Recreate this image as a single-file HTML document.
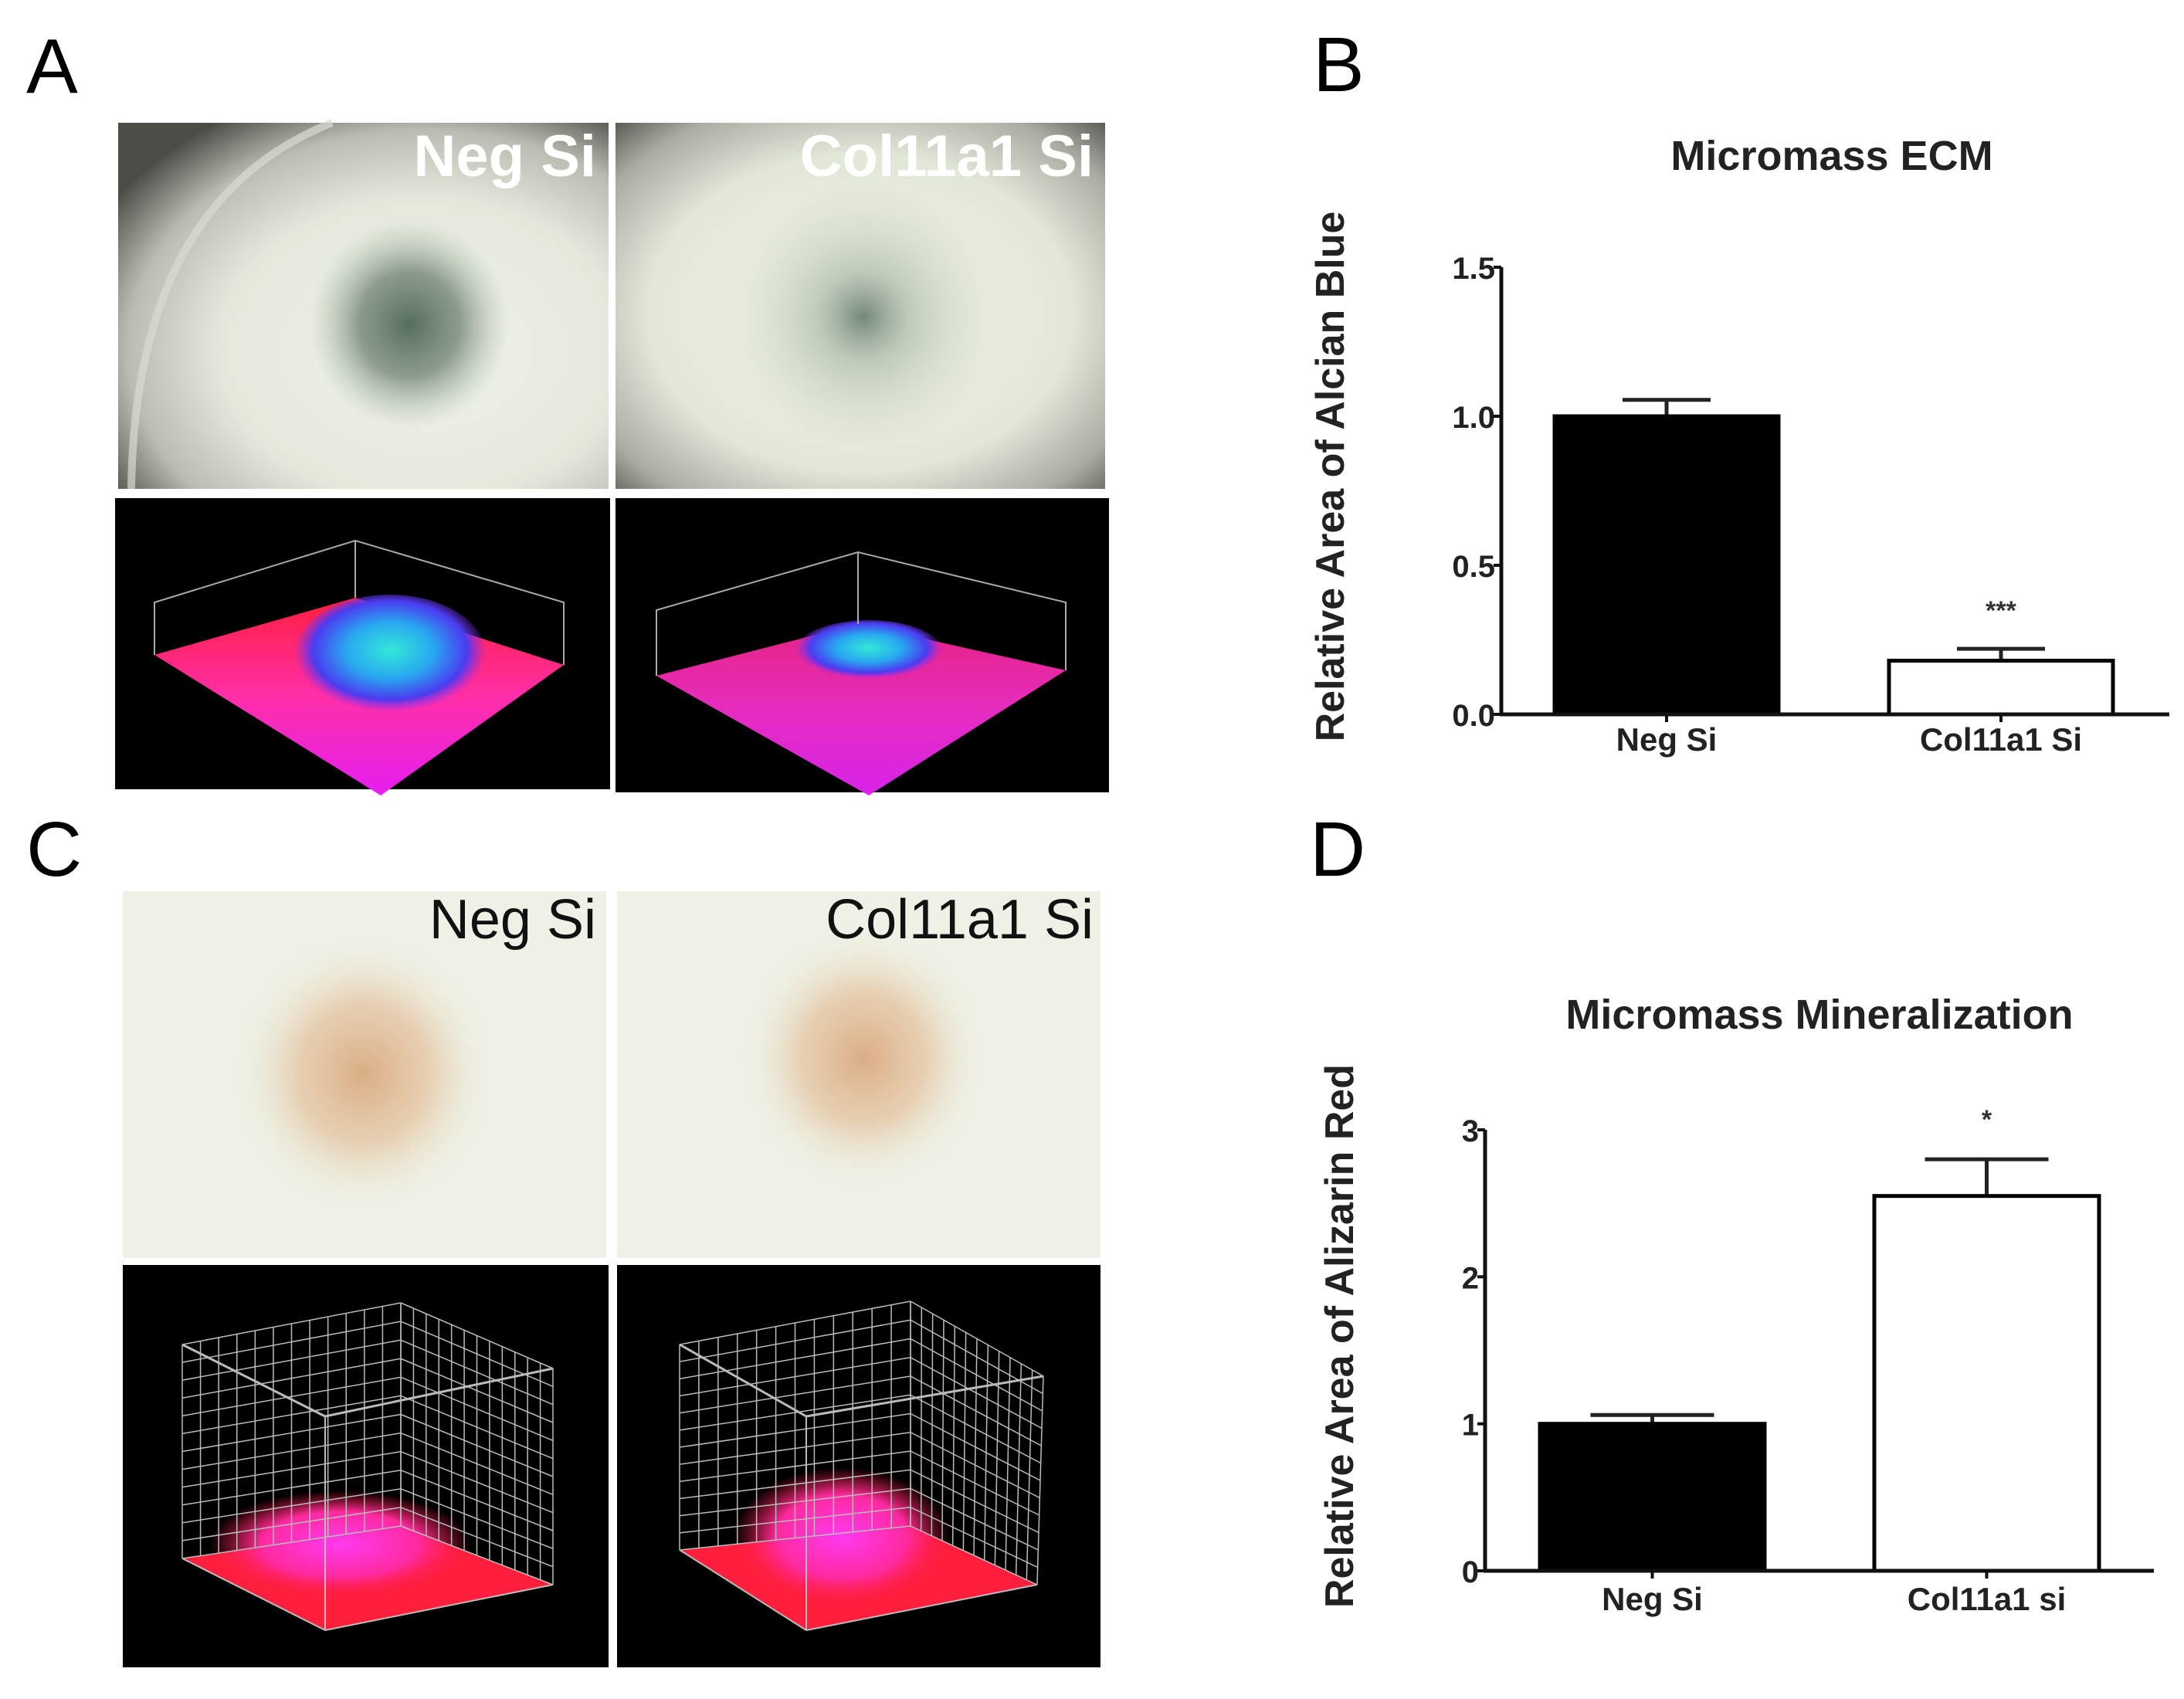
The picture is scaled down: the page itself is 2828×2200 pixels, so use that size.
<!DOCTYPE html>
<html><head><meta charset="utf-8">
<style>
html,body{margin:0;padding:0;background:#fff;}
body{width:2828px;height:2200px;position:relative;overflow:hidden;font-family:"Liberation Sans",Arial,sans-serif;}
svg{position:absolute;left:0;top:0;}
</style></head>
<body>
<svg id="fig" width="2828" height="2200" viewBox="0 0 2828 2200">
<defs>
<radialGradient id="dishA1" cx="0.62" cy="0.62" r="0.75">
<stop offset="0" stop-color="#eef3e6"/><stop offset="0.55" stop-color="#e3e9da"/><stop offset="0.8" stop-color="#b9bcb2"/><stop offset="1" stop-color="#4a4c46"/></radialGradient>
<radialGradient id="dishA2" cx="0.5" cy="0.52" r="0.72">
<stop offset="0" stop-color="#edf2e4"/><stop offset="0.6" stop-color="#e2e8d8"/><stop offset="0.85" stop-color="#a9aca2"/><stop offset="1" stop-color="#5b5d57"/></radialGradient>
<radialGradient id="spotA1" cx="0.5" cy="0.5" r="0.5">
<stop offset="0" stop-color="#4f6657" stop-opacity="0.95"/><stop offset="0.5" stop-color="#6b7f6f" stop-opacity="0.75"/><stop offset="1" stop-color="#aab6a4" stop-opacity="0"/></radialGradient>
<radialGradient id="spotA2" cx="0.5" cy="0.5" r="0.5">
<stop offset="0" stop-color="#5d7566" stop-opacity="0.85"/><stop offset="0.35" stop-color="#95a592" stop-opacity="0.5"/><stop offset="1" stop-color="#c5cfbd" stop-opacity="0"/></radialGradient>
<radialGradient id="spotC" cx="0.5" cy="0.5" r="0.5">
<stop offset="0" stop-color="#d9a679" stop-opacity="0.9"/><stop offset="0.5" stop-color="#e3c09c" stop-opacity="0.7"/><stop offset="1" stop-color="#eeeedd" stop-opacity="0"/></radialGradient>
<linearGradient id="base3d" x1="0" y1="0" x2="0" y2="1">
<stop offset="0" stop-color="#ff1e3c"/><stop offset="0.5" stop-color="#ff2fa8"/><stop offset="1" stop-color="#e41ef0"/></linearGradient>
<radialGradient id="blobA" cx="0.5" cy="0.45" r="0.5">
<stop offset="0" stop-color="#33e8d8"/><stop offset="0.45" stop-color="#28a8f0"/><stop offset="0.8" stop-color="#4a3cf0"/><stop offset="1" stop-color="#8a2cf0" stop-opacity="0"/></radialGradient>
<radialGradient id="blobC" cx="0.5" cy="0.5" r="0.5">
<stop offset="0" stop-color="#ff3af0"/><stop offset="0.6" stop-color="#ff2aa0"/><stop offset="1" stop-color="#ff1e3c" stop-opacity="0"/></radialGradient>
</defs>

<!-- Panel A -->
<text x="34" y="120" font-size="100" font-family="Liberation Sans, sans-serif">A</text>
<g>
<rect x="153" y="159" width="635" height="474" fill="url(#dishA1)"/>
<path d="M170 633 Q175 260 430 159" stroke="#d8dcd2" stroke-width="10" fill="none" opacity="0.7"/>
<ellipse cx="530" cy="420" rx="130" ry="135" fill="url(#spotA1)"/>
<text x="772" y="228" font-size="76" font-weight="bold" fill="#fff" text-anchor="end">Neg Si</text>
</g>
<g>
<rect x="797" y="159" width="634" height="474" fill="url(#dishA2)"/>
<ellipse cx="1118" cy="410" rx="170" ry="170" fill="url(#spotA2)"/>
<text x="1416" y="228" font-size="76" font-weight="bold" fill="#fff" text-anchor="end">Col11a1 Si</text>
</g>
<g>
<rect x="149" y="645" width="641" height="377" fill="#000"/>
<polygon points="200,848 460,774 730,861 493,1030" fill="url(#base3d)"/>
<ellipse cx="505" cy="850" rx="125" ry="80" fill="url(#blobA)"/>
<polyline points="200,848 200,780 460,700 730,780 730,861" fill="none" stroke="#aaa" stroke-width="2"/>
<line x1="460" y1="700" x2="460" y2="774" stroke="#aaa" stroke-width="2"/>
</g>
<g>
<rect x="797" y="645" width="639" height="381" fill="#000"/>
<polygon points="850,875 1111,808 1380,868 1125,1030" fill="url(#base3d)" opacity="0.95"/>
<polygon points="850,875 1111,808 1380,868 1125,1030" fill="#d42cf0" opacity="0.4"/>
<ellipse cx="1125" cy="843" rx="95" ry="40" fill="url(#blobA)"/>
<polyline points="850,875 850,790 1111,715 1380,780 1380,868" fill="none" stroke="#aaa" stroke-width="2"/>
<line x1="1111" y1="715" x2="1111" y2="808" stroke="#aaa" stroke-width="2"/>
</g>

<!-- Panel C -->
<text x="34" y="1134" font-size="100">C</text>
<g>
<rect x="159" y="1154" width="626" height="475" fill="#eef1e6"/>
<ellipse cx="470" cy="1390" rx="170" ry="180" fill="url(#spotC)"/>
<text x="772" y="1215" font-size="72" fill="#111" text-anchor="end">Neg Si</text>
</g>
<g>
<rect x="799" y="1154" width="626" height="475" fill="#eef1e6"/>
<ellipse cx="1118" cy="1370" rx="160" ry="170" fill="url(#spotC)"/>
<text x="1416" y="1215" font-size="72" fill="#111" text-anchor="end">Col11a1 Si</text>
</g>
<g>
<rect x="159" y="1638" width="629" height="521" fill="#000"/>
<g id="cubeL"></g>
</g>
<g>
<rect x="799" y="1638" width="626" height="521" fill="#000"/>
<g id="cubeR"></g>
</g>

<!-- Panel B -->
<text x="1700" y="118" font-size="100">B</text>
<g id="chartB"></g>
<!-- Panel D -->
<text x="1696" y="1134" font-size="100">D</text>
<g id="chartD"></g>
</svg>

<script>
// Chart B data
const bCategories = ["Neg Si", "Col11a1 Si"];
const bValues = [1.0, 0.18];
const bErrors = [0.055, 0.04];
const bTicks = [0, 0.5, 1.0, 1.5];
const bTickLabels = ["0.0", "0.5", "1.0", "1.5"];
const bSig = ["", "***"];
// Chart D data
const dCategories = ["Neg Si", "Col11a1 si"];
const dValues = [1.0, 2.55];
const dErrors = [0.06, 0.25];
const dTicks = [0, 1, 2, 3];
const dTickLabels = ["0", "1", "2", "3"];
const dSig = ["", "*"];

const NS = "http://www.w3.org/2000/svg";
function mk(parent, tag, attrs, text) {
  const e = document.createElementNS(NS, tag);
  for (const k in attrs) e.setAttribute(k, attrs[k]);
  if (text !== undefined) e.textContent = text;
  parent.appendChild(e);
  return e;
}

function drawChart(g, o) {
  const y = v => o.y0 - (v - o.vmin) / (o.vmax - o.vmin) * (o.y0 - o.y1);
  const t = mk(g, "text", {x: o.titleX, y: o.titleY, "font-size": 54, "font-weight": "bold", "text-anchor": "middle", fill: "#222"}, o.title);
  
  
  const yt = mk(g, "text", {x: 0, y: 0, "font-size": 52, "font-weight": "bold", "text-anchor": "middle", fill: "#222", transform: `translate(${o.ytX},${o.ytY}) rotate(-90)`}, o.ytitle);
  
  
  o.cats.forEach((c, i) => {
    const x = o.barX[i], w = o.barW, top = y(o.vals[i]);
    const cx = x + w / 2;
    const eb = mk(g, "g", {});
    
    
    mk(eb, "line", {x1: cx, x2: cx, y1: top, y2: y(o.vals[i] + o.errs[i]), stroke: "#222", "stroke-width": 5});
    mk(eb, "line", {x1: cx - o.capW / 2, x2: cx + o.capW / 2, y1: y(o.vals[i] + o.errs[i]), y2: y(o.vals[i] + o.errs[i]), stroke: "#222", "stroke-width": 5});
    const r = mk(g, "rect", {x: x, y: top, width: w, height: y(0) - top, fill: i === 0 ? "#000" : "#fff", stroke: "#000", "stroke-width": 5});
    
    
    const l = mk(g, "text", {x: cx, y: o.labelY, "font-size": 42, "font-weight": "bold", "text-anchor": "middle", fill: "#222"}, c);
    
    
    if (o.sig[i]) {
      const s = mk(g, "text", {x: cx, y: y(o.vals[i] + o.errs[i]) - o.sigGap, "font-size": 34, "font-weight": "bold", "text-anchor": "middle", fill: "#333"}, o.sig[i]);
      
      
    }
  });
  const ax = mk(g, "line", {x1: o.ax, x2: o.ax, y1: y(o.vmax), y2: y(0) + 2, stroke: "#111", "stroke-width": 5});
  
  
  const xa = mk(g, "line", {x1: o.ax - 2, x2: o.axEnd, y1: y(0), y2: y(0), stroke: "#111", "stroke-width": 5});
  
  
  o.ticks.forEach((v, i) => {
    mk(g, "line", {x1: o.ax - 10, x2: o.ax, y1: y(v), y2: y(v), stroke: "#111", "stroke-width": 4});
    const tl = mk(g, "text", {x: o.ax - 8, y: y(v) + 15, "font-size": 40, "font-weight": "bold", "text-anchor": "end", fill: "#222"}, o.tickLabels[i]);
    
    
  });
  o.cats.forEach((c, i) => {
    mk(g, "line", {x1: o.barX[i] + o.barW / 2, x2: o.barX[i] + o.barW / 2, y1: y(0), y2: y(0) + 10, stroke: "#111", "stroke-width": 4});
  });
}

drawChart(document.getElementById("chartB"), {
  cats: bCategories, vals: bValues, errs: bErrors, ticks: bTicks, tickLabels: bTickLabels, sig: bSig,
  vmin: 0, vmax: 1.5, y0: 925, y1: 346, ax: 1944, axEnd: 2809,
  barX: [2013, 2446], barW: 290, capW: 114, labelY: 972,
  title: "Micromass ECM", titleX: 2372, titleY: 220,
  ytitle: "Relative Area of Alcian Blue", ytX: 1740, ytY: 617, sigGap: 38
});
drawChart(document.getElementById("chartD"), {
  cats: dCategories, vals: dValues, errs: dErrors, ticks: dTicks, tickLabels: dTickLabels, sig: dSig,
  vmin: 0, vmax: 3, y0: 2034, y1: 1463, ax: 1923, axEnd: 2789,
  barX: [1994, 2427], barW: 291, capW: 160, labelY: 2085,
  title: "Micromass Mineralization", titleX: 2356, titleY: 1332,
  ytitle: "Relative Area of Alizarin Red", ytX: 1752, ytY: 1730, sigGap: 40
});

// 3D wireframe cubes for panel C (decorative)
function cube(g, p, blob) {
  const L = (a, b, w) => mk(g, "line", {x1: a[0], y1: a[1], x2: b[0], y2: b[1], stroke: "#bbb", "stroke-width": w || 2});
  const n = 12;
  mk(g, "polygon", {points: [p.bl, p.bb, p.br, p.bf].map(q => q.join(",")).join(" "), fill: "#ff1e3c"});
  mk(g, "ellipse", {cx: blob[0], cy: blob[1], rx: blob[2], ry: blob[3], fill: "url(#blobC)"});
  for (let k = 0; k <= n; k++) {
    const f = k / n;
    const lerp = (a, b) => [a[0] + (b[0] - a[0]) * f, a[1] + (b[1] - a[1]) * f];
    L(lerp(p.tl, p.tb), lerp(p.bl, p.bb), 1.5);
    L(lerp(p.tb, p.tr), lerp(p.bb, p.br), 1.5);
    L(lerp(p.tl, p.bl), lerp(p.tb, p.bb), 1.5);
    L(lerp(p.tb, p.bb), lerp(p.tr, p.br), 1.5);
  }
  L(p.tl, p.tf, 3); L(p.tf, p.tr, 3); L(p.tf, p.bf, 2);
  L(p.bl, p.bf, 2); L(p.bf, p.br, 2);
}
cube(document.getElementById("cubeL"), {tl: [236, 1741], tb: [519, 1687], tr: [716, 1772], tf: [421, 1834], bl: [236, 2018], bb: [519, 1976], br: [716, 2052], bf: [421, 2111]}, [440, 2000, 170, 70]);
cube(document.getElementById("cubeR"), {tl: [880, 1741], tb: [1179, 1685], tr: [1351, 1782], tf: [1044, 1834], bl: [880, 2007], bb: [1179, 1976], br: [1343, 2052], bf: [1044, 2111]}, [1090, 1990, 140, 90]);
</script>
</body></html>
